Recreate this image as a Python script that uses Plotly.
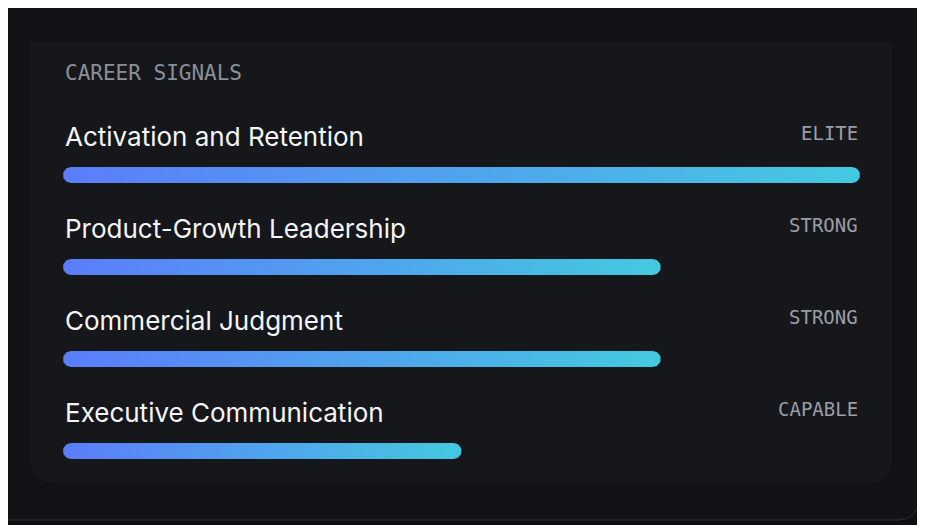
import numpy as np
import plotly.graph_objects as go

title = "CAREER SIGNALS"
skills = ["Activation and Retention", "Product-Growth Leadership", "Commercial Judgment", "Executive Communication"]
scores = [100, 75, 75, 50]
levels = ["ELITE", "STRONG", "STRONG", "CAPABLE"]

OFF = 8  # page margin in browser
W, H = 925 - OFF, 525 - OFF
L, R = 63 - OFF, 65
plot_w = W - L - R
row_px = 92
first_px = 175 - OFF
rx = 8 * 100 / plot_w
ry = 8 / row_px

fig = go.Figure()
for i, v in enumerate(scores):
    t1 = np.linspace(np.pi / 2, 3 * np.pi / 2, 20)
    t2 = np.linspace(-np.pi / 2, np.pi / 2, 20)
    xs = list(rx + rx * np.cos(t1)) + list(v - rx + rx * np.cos(t2))
    ys = list(i - ry * np.sin(t1)) + list(i - ry * np.sin(t2))
    fig.add_trace(go.Scatter(
        x=xs + [xs[0]], y=ys + [ys[0]], mode="lines", fill="toself",
        line=dict(width=0, color="rgba(0,0,0,0)"),
        fillgradient=dict(type="horizontal", colorscale=[[0, "#5b7dfb"], [1, "#44c9e0"]]),
        hoverinfo="skip", showlegend=False))
    fig.add_annotation(x=0, y=i - 0.42, text=skills[i], xref="x", yref="y", xanchor="left",
                       yanchor="middle", showarrow=False,
                       font=dict(family="Inter", size=26, color="#f4f5f7"))
    fig.add_annotation(x=100, y=i - 0.455, text=levels[i], xref="x", yref="y", xanchor="right",
                       yanchor="middle", showarrow=False,
                       font=dict(family="DejaVu Sans Mono", size=19, color="#9a9ea6"))

fig.add_annotation(x=0, y=-(first_px - 73 + OFF) / row_px, text=title, xref="x", yref="y", xanchor="left",
                   yanchor="middle", showarrow=False,
                   font=dict(family="DejaVu Sans Mono", size=21, color="#8a8f98"))

def px2paper(x, y):
    return (x - OFF - L) / plot_w, 1 - (y - OFF) / H

fx0, fy0 = px2paper(-10, -20)
fx1, fy1 = px2paper(918, 520)
frx, fry = 20 / plot_w, 20 / H
shapes = [
    dict(type="path", xref="paper", yref="paper",
         path=f"M {fx0},{fy0} L {fx0},{fy1} L {fx1-frx},{fy1} Q {fx1},{fy1} {fx1},{fy1+fry} L {fx1},{fy0} Z",
         fillcolor="#111216", line=dict(color="#2a2d34", width=1), layer="below"),
]
x0, y0 = px2paper(30, 42)
x1, y1 = px2paper(892, 483)
rxp, ryp = 25 / plot_w, 25 / H
shapes.append(dict(type="path", xref="paper", yref="paper",
    path=f"M {x0},{y0} L {x1},{y0} L {x1},{y1+ryp} Q {x1},{y1} {x1-rxp},{y1} L {x0+rxp},{y1} Q {x0},{y1} {x0},{y1+ryp} Z",
    fillcolor="#15171b", line_width=0, layer="below"))

fig.update_layout(
    width=W, height=H, margin=dict(l=L, r=R, t=0, b=0),
    paper_bgcolor="#0e0f12", plot_bgcolor="rgba(0,0,0,0)",
    xaxis=dict(range=[0, 100], visible=False, fixedrange=True),
    yaxis=dict(range=[(H - first_px) / row_px, -first_px / row_px], visible=False, fixedrange=True),
    shapes=shapes,
)
fig.write_html("out.html")
